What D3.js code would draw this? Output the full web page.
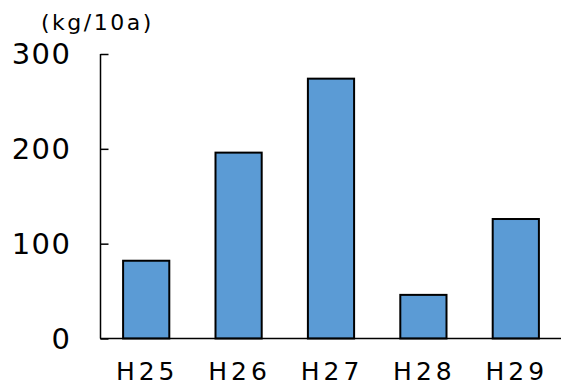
<!DOCTYPE html>
<html>
<head>
<meta charset="utf-8">
<script src="https://cdn.jsdelivr.net/npm/d3@7"></script>
<style>
  body { margin: 0; background: #fff; }
  text { font-family: "DejaVu Sans", sans-serif; fill: #000; }
</style>
</head>
<body>
<div id="chart"></div>
<script>
"use strict";

var years = ["H25", "H26", "H27", "H28", "H29"];
var yields = [82, 196, 274, 46, 126];
var yTicks = [0, 100, 200, 300];
var unitLabel = "(kg/10a)";

function renderChart() {
    var svg = d3.select("#chart").append("svg")
        .attr("width", 561)
        .attr("height", 387);

    var x = d3.scaleBand().domain(years).range([100, 562]).paddingInner(0.5).paddingOuter(0.25),
        y = d3.scaleLinear().domain([0, 300]).range([338.5, 54]);

    // bars
    svg.selectAll(".bar")
        .data(years)
        .enter().append("rect")
        .attr("class", "bar")
        .attr("x", function (d) { return x(d); })
        .attr("y", function (d, i) { return y(yields[i]); })
        .attr("width", x.bandwidth())
        .attr("height", function (d, i) { return y(0) - y(yields[i]); })
        .attr("fill", "#5b9bd5")
        .attr("stroke", "#000")
        .attr("stroke-width", 2);

    // y axis, ticks pointing inward
    var yAxis = svg.append("g")
        .attr("transform", "translate(100.5,0)")
        .call(d3.axisRight(y).tickValues(yTicks).tickSize(8).tickFormat(""));
    yAxis.select(".domain").attr("stroke-width", 1.5).attr("d", "M0," + y(300) + "V" + y(0));
    yAxis.selectAll(".tick line").attr("stroke-width", 1.5);

    var ls = 1.5;
    svg.selectAll(".ylab")
        .data(yTicks)
        .enter().append("text")
        .attr("class", "ylab")
        .attr("x", 70 + ls)
        .attr("y", function (d) { return y(d); })
        .attr("dy", "0.36em")
        .attr("text-anchor", "end")
        .attr("font-size", "29px")
        .attr("letter-spacing", ls + "px")
        .text(function (d) { return d; });

    // x axis baseline
    var xAxis = svg.append("g")
        .attr("transform", "translate(0," + y(0) + ")")
        .call(d3.axisBottom(x).tickSize(0).tickFormat(""));
    xAxis.select(".domain").attr("stroke-width", 1.5).attr("d", "M100,0H561");

    svg.selectAll(".xlab")
        .data(years)
        .enter().append("text")
        .attr("class", "xlab")
        .attr("x", function (d) { return x(d) + x.bandwidth() / 2 + 1; })
        .attr("y", 380)
        .attr("text-anchor", "middle")
        .attr("font-size", "25px")
        .attr("letter-spacing", "4px")
        .text(function (d) { return d; });

    svg.append("text")
        .attr("x", 41)
        .attr("y", 30)
        .attr("font-size", "22px")
        .attr("letter-spacing", "2.5px")
        .text(unitLabel);
}

renderChart();
</script>
</body>
</html>
